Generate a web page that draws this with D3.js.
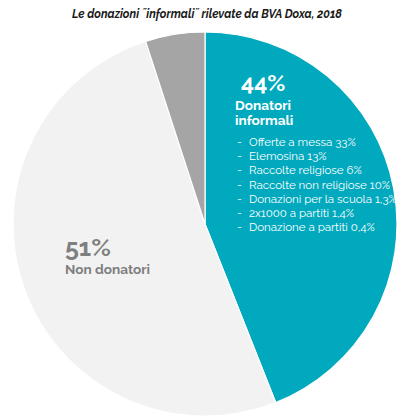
<!DOCTYPE html>
<html>
<head>
<meta charset="utf-8">
<script src="https://cdn.jsdelivr.net/npm/d3@7"></script>
<style>
  html, body { margin: 0; padding: 0; background: #fff; }
  svg { display: block; }
</style>
</head>
<body>
<svg id="chart" width="400" height="417"></svg>
<script>
// Shares of the population (percent)
const categories = ["Donatori informali", "Non donatori", "Altro"];
const shares = [44, 51, 5];
const sliceColors = ["#00a9bd", "#f2f2f2", "#a5a5a5"];

// Breakdown listed inside the teal slice
const detailLabels = [
  "Offerte a messa 33%",
  "Elemosina 13%",
  "Raccolte religiose 6%",
  "Raccolte non religiose 10%",
  "Donazioni per la scuola 1,3%",
  "2x1000 a partiti 1,4%",
  "Donazione a partiti 0,4%"
];

const titleText = "Le donazioni \u02DDinformali\u02DD rilevate da BVA Doxa, 2018";

const svg = d3.select("#chart");
const cx = 205, cy = 224, radius = 192;
const fontStack = "Raleway, Lato, 'Open Sans', sans-serif";

const title = svg.append("text")
  .attr("x", 207).attr("y", 18)
  .attr("text-anchor", "middle")
  .attr("font-family", fontStack)
  .attr("font-style", "italic")
  .attr("font-weight", 700)
  .attr("font-size", 12)
  .attr("fill", "#1a1a1a")
  .text(titleText);
// keep the title to its designed width
title.attr("textLength", 270).attr("lengthAdjust", "spacingAndGlyphs");

const pie = d3.pie().sort(null).value(d => d)(shares);
const arc = d3.arc().innerRadius(0).outerRadius(radius);

const g = svg.append("g").attr("transform", `translate(${cx},${cy})`);
g.selectAll("path")
  .data(pie)
  .join("path")
  .attr("d", arc)
  .attr("fill", (d, i) => sliceColors[i])
  .attr("stroke", "#fff")
  .attr("stroke-width", 1.2);

// Teal slice annotation
const teal = svg.append("g").attr("font-family", fontStack).attr("fill", "#fff");
teal.append("text").attr("x", 241).attr("y", 91)
  .attr("font-size", 23).attr("font-weight", 700)
  .text(shares[0] + "%");
teal.append("text").attr("x", 235).attr("y", 110)
  .attr("font-size", 13.6).attr("font-weight", 700)
  .text("Donatori");
teal.append("text").attr("x", 235).attr("y", 125)
  .attr("font-size", 13.6).attr("font-weight", 700)
  .text("informali");

const y0 = 146, dy = 14.2;
detailLabels.forEach((t, i) => {
  teal.append("text").attr("x", 237).attr("y", y0 + i * dy)
    .attr("font-size", 11.5).text("-");
  teal.append("text").attr("x", 249).attr("y", y0 + i * dy)
    .attr("font-size", 11.5).attr("font-weight", 400).text(t);
});

// Light slice annotation
const grey = svg.append("g").attr("font-family", fontStack).attr("fill", "#7f7f7f");
grey.append("text").attr("x", 65).attr("y", 256)
  .attr("font-size", 25).attr("font-weight", 700)
  .text(shares[1] + "%");
grey.append("text").attr("x", 65).attr("y", 274)
  .attr("font-size", 13.6).attr("font-weight", 700)
  .text("Non donatori");
</script>
</body>
</html>
